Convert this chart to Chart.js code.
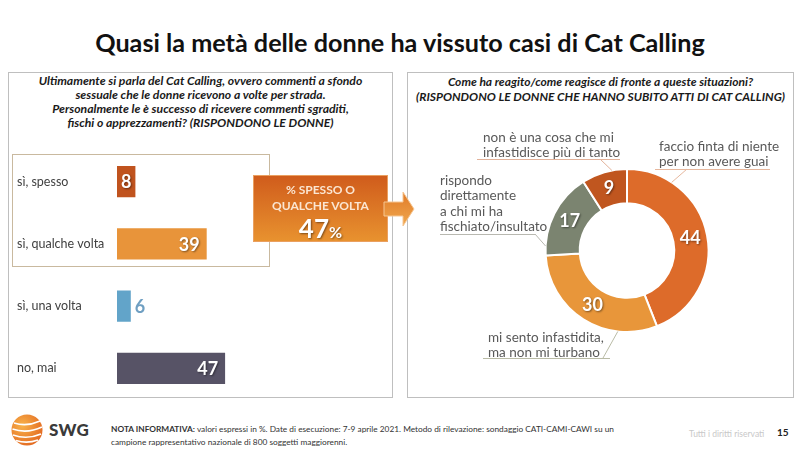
<!DOCTYPE html>
<html lang="it">
<head>
<meta charset="utf-8">
<script src="https://cdn.jsdelivr.net/npm/chart.js@4.4.1/dist/chart.umd.min.js"></script>
<style>
  html, body { margin: 0; padding: 0; }
  body { width: 800px; height: 449px; position: relative; overflow: hidden; background: #fff; font-family: Lato, sans-serif; color: #404040; }
  .abs { position: absolute; }
  #title { left: 0; top: 26px; width: 800px; text-align: center; font-weight: bold; font-size: 25.2px; line-height: 32px; color: #111; }
  .panel { border: 1px solid #bfbfbf; box-sizing: border-box; }
  .question { text-align: center; font-style: italic; font-weight: bold; font-size: 12.2px; line-height: 14px; color: #1a1a1a; white-space: nowrap; }
  #callout { left: 253px; top: 175px; width: 135px; height: 67px; box-sizing: border-box;
    background: linear-gradient(#d05c1c, #e8922f); border: 1px solid #eaa060; text-align: center; color: #fbe6d2; }
  #callout .t { font-weight: bold; font-size: 12px; line-height: 16px; }
  #callout .big { font-weight: bold; font-size: 26px; line-height: 28px; color: #fff; text-shadow: 1px 1px 2px rgba(0,0,0,0.45); }
  #callout .big span { font-size: 16px; }
  #note { left: 111px; top: 423px; font-size: 8.3px; line-height: 13px; color: #333; white-space: nowrap; }
  #rights { left: 689px; top: 429px; font-size: 8.5px; color: #c8c8c8; }
  #page { left: 777px; top: 426px; font-size: 10px; font-weight: bold; color: #222; }
  #swg { left: 49px; top: 419px; font-size: 17px; font-weight: 900; color: #3a3a3a; letter-spacing: 0.3px; }
</style>
</head>
<body>
<div id="title" class="abs">Quasi la metà delle donne ha vissuto casi di Cat Calling</div>

<div class="abs panel" style="left:8px;top:72px;width:385px;height:326px;"></div>
<div class="abs panel" style="left:407px;top:72px;width:387px;height:326px;"></div>

<div class="abs question" style="left:8px;top:74px;width:385px;">
  Ultimamente si parla del Cat Calling, ovvero commenti a sfondo<br>
  sessuale che le donne ricevono a volte per strada.<br>
  Personalmente le è successo di ricevere commenti sgraditi,<br>
  fischi o apprezzamenti? (RISPONDONO LE DONNE)
</div>
<div class="abs question" style="left:407px;top:75px;width:387px;font-size:12px;line-height:14.5px;">
  Come ha reagito/come reagisce di fronte a queste situazioni?<br>
  (RISPONDONO LE DONNE CHE HANNO SUBITO ATTI DI CAT CALLING)
</div>

<div class="abs" style="left:12px;top:154px;width:258px;height:113px;border:1px solid #c9b99f;box-sizing:border-box;"></div>

<div class="abs" style="left:17px;top:140px;width:330px;height:270px;">
  <canvas id="barChart"></canvas>
</div>

<div id="callout" class="abs">
  <div class="t" style="margin-top:6px;">% SPESSO O</div>
  <div class="t">QUALCHE VOLTA</div>
  <div class="big">47<span>%</span></div>
</div>
<svg class="abs" style="left:383px;top:191px;" width="33" height="37" viewBox="0 0 33 37">
  <defs>
    <linearGradient id="ag" x1="0" y1="0" x2="0" y2="1">
      <stop offset="0" stop-color="#e07a28"/>
      <stop offset="1" stop-color="#f0a84e"/>
    </linearGradient>
  </defs>
  <polygon points="1,11 20,11 20,1 31,18 20,35 20,25 1,25" fill="url(#ag)" stroke="#f6c692" stroke-width="1"/>
</svg>

<div class="abs" style="left:409px;top:120px;width:383px;height:260px;">
  <canvas id="donutChart"></canvas>
</div>

<svg class="abs" style="left:10px;top:413px;" width="34" height="34" viewBox="0 0 34 34">
  <defs>
    <radialGradient id="lg" cx="0.35" cy="0.35" r="0.75">
      <stop offset="0" stop-color="#f8b24a"/>
      <stop offset="1" stop-color="#e2661f"/>
    </radialGradient>
  </defs>
  <circle cx="17" cy="17" r="15.5" fill="url(#lg)"/>
  <path d="M4 10 Q17 14 30 8 M2.5 16 Q17 21 32 14 M3 22 Q17 27 31 21 M6 27.5 Q17 31 28 27" stroke="#fff" stroke-width="1.6" fill="none"/>
</svg>
<div id="swg" class="abs">SWG</div>
<div id="note" class="abs"><b>NOTA INFORMATIVA:</b> valori espressi in %. Date di esecuzione: 7-9 aprile 2021. Metodo di rilevazione: sondaggio CATI-CAMI-CAWI su un<br>campione rappresentativo nazionale di 800 soggetti maggiorenni.</div>
<div id="rights" class="abs">Tutti i diritti riservati</div>
<div id="page" class="abs">15</div>

<script>
// ---- data ----
const barCategories = ["sì, spesso", "sì, qualche volta", "sì, una volta", "no, mai"];
const barValues = [8, 39, 6, 47];

const donutCategories = [
  ["faccio finta di niente", "per non avere guai"],
  ["mi sento infastidita,", "ma non mi turbano"],
  ["rispondo", "direttamente", "a chi mi ha", "fischiato/insultato"],
  ["non è una cosa che mi", "infastidisce più di tanto"]
];
const donutValues = [44, 30, 17, 9];

// ---- styles ----
const barColors = ["#c0531e", "#e8943a", "#62a4c9", "#575366"];
const donutColors = ["#dd6b2a", "#e8963a", "#7b8470", "#c0561f"];

Chart.defaults.font.family = "Lato, sans-serif";

// value labels on bars
const barValueLabels = {
  id: "barValueLabels",
  afterDatasetsDraw(chart) {
    const ctx = chart.ctx;
    const meta = chart.getDatasetMeta(0);
    const values = chart.data.datasets[0].data;
    ctx.save();
    ctx.font = "bold 18px Lato";
    ctx.textBaseline = "middle";
    meta.data.forEach((bar, i) => {
      const w = bar.x - bar.base;
      let x;
      if (w < 16) {
        ctx.textAlign = "left";
        ctx.fillStyle = "#6f9fc2";
        ctx.shadowColor = "transparent";
        x = bar.x + 4;
      } else {
        ctx.fillStyle = "#fff";
        ctx.shadowColor = "rgba(0,0,0,0.45)";
        ctx.shadowBlur = 2;
        ctx.shadowOffsetX = 1;
        ctx.shadowOffsetY = 1;
        if (w < 40) {
          ctx.textAlign = "center";
          x = (bar.x + bar.base) / 2;
        } else {
          ctx.textAlign = "right";
          x = bar.x - 7;
        }
      }
      ctx.fillText(String(values[i]), x, bar.y + 1);
    });
    ctx.restore();
  }
};

new Chart(document.getElementById("barChart"), {
  type: "bar",
  data: {
    labels: barCategories,
    datasets: [{
      data: barValues,
      backgroundColor: barColors,
      borderWidth: 0,
      barPercentage: 0.5,
      categoryPercentage: 1
    }]
  },
  options: {
    indexAxis: "y",
    responsive: true,
    maintainAspectRatio: false,
    animation: false,
    layout: { padding: { top: 4, bottom: 2, left: 0, right: 0 } },
    plugins: { legend: { display: false }, tooltip: { enabled: false } },
    scales: {
      x: { display: false, min: 0, max: 100 },
      y: {
        grid: { display: false },
        border: { display: false },
        ticks: { crossAlign: "far", color: "#404040", font: { size: 12.5 } },
        afterFit: (scale) => { scale.width = 100; }
      }
    }
  },
  plugins: [barValueLabels]
});

// label placement for the doughnut, relative to its centre
// t = where on the arc the leader starts, (ex,ey) = elbow on the underline
const donutLabelLayout = [
  { t: 0.21, ex: 60, ey: -81.5, u0: 28, u1: 143, tx: 32, ty: -104, color: "#e6b79d" },
  { t: 0.26, ex: -24, ey: 107.5, u0: -144, u1: -17, tx: -139, ty: 87, color: "#b9bba6" },
  { t: 0.11, ex: -92, ey: -16.5, u0: -187, u1: -92, tx: -187, ty: -70, color: "#b8b8b0" },
  { t: 0.67, ex: -27, ey: -91.5, u0: -150, u1: -7, tx: -144, ty: -113, color: "#e2b29a" }
];

const donutLabels = {
  id: "donutLabels",
  afterDatasetsDraw(chart) {
    const ctx = chart.ctx;
    const meta = chart.getDatasetMeta(0);
    const values = chart.data.datasets[0].data;
    ctx.save();
    meta.data.forEach((arc, i) => {
      // numbers inside the ring
      const p = arc.tooltipPosition();
      ctx.font = "bold 18px Lato";
      ctx.textAlign = "center";
      ctx.textBaseline = "middle";
      ctx.fillStyle = "#fff";
      ctx.shadowColor = "rgba(0,0,0,0.45)";
      ctx.shadowBlur = 2;
      ctx.shadowOffsetX = 1;
      ctx.shadowOffsetY = 1;
      ctx.fillText(String(values[i]), p.x, p.y);
      ctx.shadowColor = "transparent";

      // leader + underline + text
      const L = donutLabelLayout[i];
      const a = arc.startAngle + (arc.endAngle - arc.startAngle) * L.t;
      const sx = arc.x + Math.cos(a) * arc.outerRadius;
      const sy = arc.y + Math.sin(a) * arc.outerRadius;
      ctx.strokeStyle = L.color;
      ctx.lineWidth = 1;
      ctx.beginPath();
      ctx.moveTo(sx, sy);
      ctx.lineTo(arc.x + L.ex, arc.y + L.ey);
      ctx.moveTo(arc.x + L.u0, arc.y + L.ey + 0.5);
      ctx.lineTo(arc.x + L.u1, arc.y + L.ey + 0.5);
      ctx.stroke();

      ctx.font = "13.5px Lato";
      ctx.textAlign = "left";
      ctx.fillStyle = "#595959";
      donutCategories[i].forEach((line, j) => {
        ctx.fillText(line, arc.x + L.tx, arc.y + L.ty + j * 15.5);
      });
    });
    ctx.restore();
  }
};

new Chart(document.getElementById("donutChart"), {
  type: "doughnut",
  data: {
    labels: donutCategories.map((l) => l.join(" ")),
    datasets: [{
      data: donutValues,
      backgroundColor: donutColors,
      borderColor: "#fff",
      borderWidth: 2
    }]
  },
  options: {
    responsive: true,
    maintainAspectRatio: false,
    animation: false,
    cutout: "58%",
    layout: { padding: { left: 135.5, top: 48, right: 82.5, bottom: 47 } },
    plugins: { legend: { display: false }, tooltip: { enabled: false } }
  },
  plugins: [donutLabels]
});
</script>
</body>
</html>
